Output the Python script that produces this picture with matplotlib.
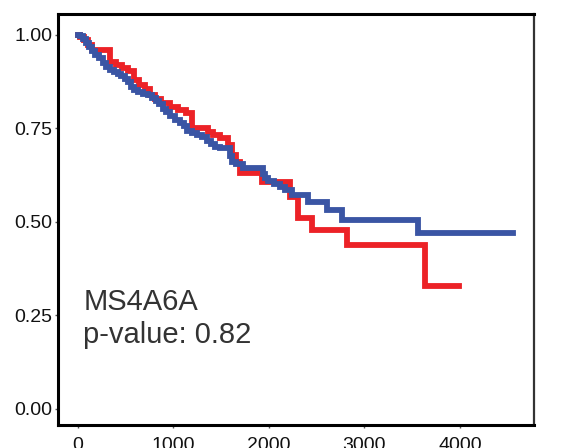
import matplotlib
matplotlib.use("Agg")
import matplotlib.pyplot as plt

plt.rcParams["font.family"] = ["Liberation Sans", "DejaVu Sans"]

# Kaplan-Meier survival curves (time in days, survival probability after each event)
blue_time = [0, 24, 55, 87, 118, 150, 181, 223, 265, 296, 338, 380, 422, 453, 495, 526,
             558, 589, 631, 683, 736, 777, 819, 850, 892, 924, 965, 1018, 1070, 1112,
             1143, 1196, 1248, 1300, 1353, 1395, 1436, 1488, 1593, 1614, 1656, 1729,
             1938, 1959, 1991, 2054, 2117, 2169, 2242, 2410, 2609, 2765, 3560, 4553]
blue_surv = [1.0, 0.997, 0.989, 0.979, 0.968, 0.957, 0.947, 0.939, 0.925, 0.914, 0.906,
             0.901, 0.896, 0.890, 0.882, 0.874, 0.861, 0.853, 0.848, 0.842, 0.840, 0.832,
             0.824, 0.815, 0.802, 0.794, 0.783, 0.773, 0.765, 0.757, 0.743, 0.738, 0.733,
             0.727, 0.717, 0.709, 0.701, 0.698, 0.676, 0.660, 0.655, 0.644, 0.628, 0.618,
             0.610, 0.602, 0.594, 0.586, 0.572, 0.553, 0.532, 0.505, 0.471, 0.471]

red_time = [0, 24, 66, 108, 150, 338, 401, 463, 526, 589, 641, 704, 756, 809, 871, 965,
            1049, 1133, 1196, 1365, 1417, 1488, 1572, 1614, 1656, 1698, 1928, 2221,
            2305, 2451, 2817, 3635, 3990]
red_surv = [1.0, 0.995, 0.987, 0.973, 0.960, 0.928, 0.920, 0.912, 0.904, 0.880, 0.866,
            0.856, 0.840, 0.829, 0.818, 0.807, 0.799, 0.791, 0.751, 0.741, 0.733, 0.725,
            0.706, 0.679, 0.660, 0.631, 0.607, 0.567, 0.511, 0.479, 0.439, 0.329, 0.329]

x_ticks = [0, 1000, 2000, 3000, 4000]
y_ticks = [0.00, 0.25, 0.50, 0.75, 1.00]
y_tick_labels = ["0.00", "0.25", "0.50", "0.75", "1.00"]

gene = "MS4A6A"
p_value = 0.82

RED = "#EC2227"
BLUE = "#3A55A4"

fig = plt.figure(figsize=(5.68, 4.48), dpi=100)
ax = fig.add_axes([0.1021, 0.0513, 0.8379, 0.9175])

ax.step(red_time, red_surv, where="post", color=RED, lw=4.2, solid_joinstyle="miter")
ax.step(blue_time, blue_surv, where="post", color=BLUE, lw=4.2, solid_joinstyle="miter")

ax.set_xlim(-206, 4773)
ax.set_ylim(-0.043, 1.056)

ax.set_xticks(x_ticks)
ax.set_xticklabels([str(v) for v in x_ticks])
ax.set_yticks(y_ticks)
ax.set_yticklabels(y_tick_labels)
ax.tick_params(axis="both", direction="out", length=2.5, width=1.0, color="#555555",
               labelsize=14, labelcolor="#111111")
ax.tick_params(axis="y", pad=1.5)
ax.tick_params(axis="x", pad=6)

for side in ["left", "bottom", "top"]:
    ax.spines[side].set_linewidth(2.2)
    ax.spines[side].set_color("black")
ax.spines["right"].set_linewidth(1.6)
ax.spines["right"].set_color("#333333")

ax.text(58, 0.265, gene, fontsize=21, color="#333333", va="baseline", ha="left")
ax.text(58, 0.176, f"p-value: {p_value}", fontsize=21, color="#333333",
        va="baseline", ha="left")

fig.savefig("out.png", dpi=100)
